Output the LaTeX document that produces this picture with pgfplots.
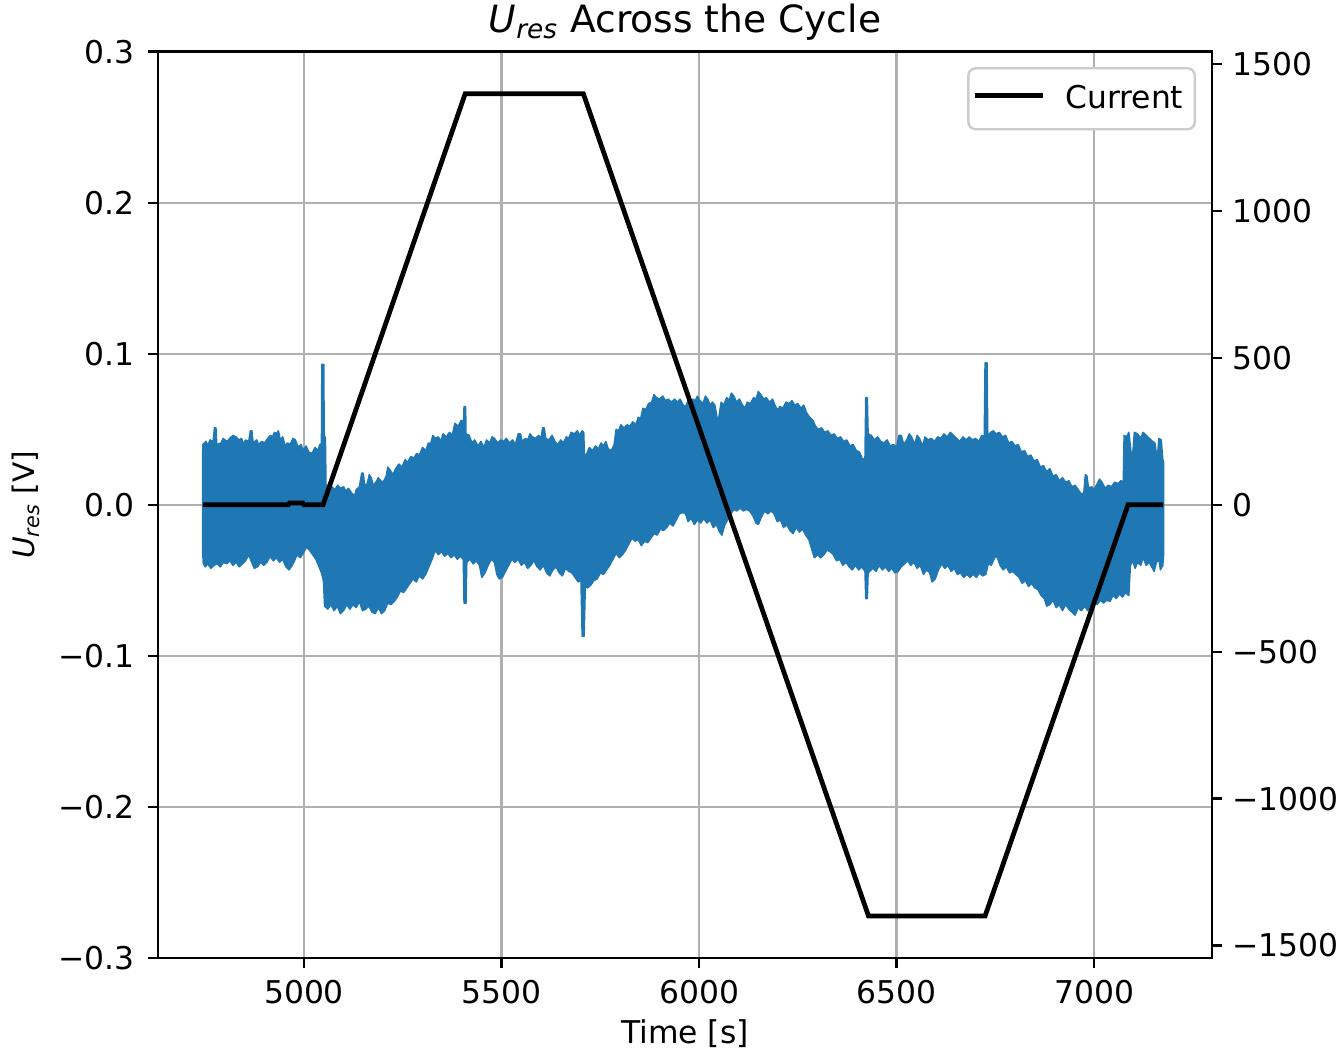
\documentclass[border=0pt]{standalone}
\usepackage{fontspec}
\setmainfont{DejaVu Sans}
\usepackage{pgfplots}
\pgfplotsset{compat=1.18}
\usetikzlibrary{calc}
\definecolor{mplblue}{HTML}{1F77B4}
\definecolor{gridgray}{HTML}{B0B0B0}
\definecolor{legedge}{HTML}{CCCCCC}

\pgfplotsset{
  twin/.style={
    scale only axis, width=354.7bp, height=305.2bp,
    xmin=4631, xmax=7298,
    axis line style={line width=0.8bp, black},
    tick style={line width=0.8bp, black},
    tick align=outside, major tick length=3.5bp,
    tick label style={font=\fontsize{10.6}{12.7}\selectfont},
    label style={font=\fontsize{10.6}{12.7}\selectfont},
    /pgf/number format/assume math mode=true,
  },
}

\begin{document}
\begin{tikzpicture}
\begin{axis}[twin, name=ax,
  ymin=-0.3, ymax=0.3,
  xtick pos=bottom, ytick pos=left,
  xtick={5000,5500,6000,6500,7000},
  xticklabels={5000,5500,6000,6500,7000},
  ytick={-0.3,-0.2,-0.1,0,0.1,0.2,0.3},
  yticklabels={−0.3,−0.2,−0.1,0.0,0.1,0.2,0.3},
  xticklabel style={anchor=north, inner sep=0pt, yshift=-3.6bp},
  yticklabel style={anchor=east, inner sep=0pt, xshift=-4.2bp},
  grid=major, grid style={color=gridgray, line width=0.8bp},
  xlabel={Time [s]},
  xlabel style={at={(rel axis cs:0.5,0)}, anchor=base, yshift=-28.6bp},
  ylabel={\itshape U\textsubscript{\itshape res}\upshape{} [V]},
  every axis y label/.style={at={(rel axis cs:0,0.5)}, anchor=center, rotate=90, yshift=44.6bp},
  title={\itshape U\textsubscript{\itshape res}\upshape{} Across the Cycle},
  every axis title/.style={at={(rel axis cs:0.5,1)}, anchor=base, yshift=6.3bp, font=\fontsize{12.7}{15.2}\selectfont},
]
% residual voltage band: upper envelope left to right, then lower envelope back
\addplot[fill=mplblue, draw=mplblue, line width=0.5bp, line join=round] coordinates {
  (4743,0.030)(4744,0.040)(4752,0.042)(4756,0.039)(4762,0.043)(4770,0.042)(4773,0.051)(4777,0.051)
  (4779,0.040)(4790,0.041)(4795,0.044)(4805,0.042)(4812,0.044)(4820,0.046)(4828,0.045)(4835,0.043)
  (4842,0.044)(4846,0.040)(4852,0.043)(4860,0.042)(4864,0.049)(4868,0.049)(4871,0.041)(4880,0.043)
  (4885,0.040)(4893,0.042)(4900,0.041)(4908,0.044)(4915,0.046)(4920,0.045)(4925,0.048)(4930,0.047)
  (4935,0.049)(4940,0.043)(4946,0.045)(4952,0.039)(4958,0.041)(4965,0.040)(4972,0.044)(4978,0.043)
  (4985,0.038)(4992,0.040)(4998,0.036)(5005,0.039)(5012,0.035)(5020,0.034)(5028,0.038)(5035,0.036)
  (5040,0.040)(5044,0.040)(5045,0.093)(5050,0.093)(5051,0.045)(5054,0.045)(5056,0.005)(5065,0.008)
  (5070,0.012)(5078,0.010)(5085,0.013)(5092,0.011)(5100,0.012)(5106,0.009)(5112,0.011)(5120,0.008)
  (5128,0.006)(5132,0.010)(5140,0.012)(5146,0.021)(5150,0.021)(5153,0.013)(5160,0.014)(5165,0.020)
  (5170,0.018)(5175,0.013)(5182,0.015)(5188,0.018)(5194,0.016)(5200,0.015)(5208,0.019)(5212,0.025)
  (5218,0.023)(5225,0.020)(5232,0.024)(5240,0.027)(5248,0.025)(5256,0.030)(5262,0.028)(5270,0.032)
  (5278,0.031)(5285,0.034)(5292,0.033)(5300,0.038)(5308,0.036)(5315,0.041)(5320,0.040)(5326,0.046)
  (5332,0.044)(5340,0.045)(5346,0.042)(5352,0.047)(5360,0.045)(5368,0.048)(5375,0.046)(5382,0.054)
  (5390,0.052)(5398,0.056)(5404,0.055)(5405,0.065)(5409,0.065)(5410,0.047)(5418,0.046)(5425,0.041)
  (5432,0.043)(5440,0.039)(5448,0.042)(5455,0.038)(5462,0.043)(5470,0.041)(5476,0.045)(5482,0.044)
  (5490,0.041)(5498,0.043)(5505,0.042)(5512,0.044)(5520,0.041)(5528,0.043)(5535,0.040)(5542,0.047)
  (5548,0.047)(5552,0.042)(5560,0.044)(5566,0.043)(5572,0.047)(5578,0.045)(5586,0.044)(5594,0.046)
  (5600,0.044)(5604,0.051)(5608,0.051)(5612,0.044)(5620,0.043)(5628,0.046)(5635,0.042)(5642,0.040)
  (5650,0.043)(5656,0.041)(5664,0.045)(5670,0.044)(5676,0.048)(5684,0.047)(5692,0.049)(5698,0.046)
  (5704,0.049)(5708,0.048)(5710,0.032)(5716,0.034)(5722,0.038)(5730,0.036)(5738,0.039)(5745,0.037)
  (5752,0.041)(5758,0.039)(5764,0.042)(5770,0.037)(5778,0.036)(5785,0.040)(5790,0.050)(5796,0.049)
  (5802,0.053)(5810,0.051)(5818,0.053)(5825,0.052)(5832,0.055)(5840,0.053)(5846,0.058)(5852,0.057)
  (5858,0.064)(5865,0.063)(5872,0.067)(5880,0.068)(5886,0.073)(5892,0.071)(5900,0.070)(5908,0.072)
  (5915,0.069)(5922,0.070)(5930,0.068)(5938,0.070)(5945,0.068)(5952,0.070)(5960,0.066)(5966,0.065)
  (5972,0.069)(5978,0.068)(5984,0.070)(5990,0.069)(5996,0.072)(6002,0.069)(6010,0.067)(6016,0.072)
  (6022,0.070)(6028,0.066)(6034,0.068)(6040,0.066)(6046,0.057)(6050,0.058)(6056,0.068)(6062,0.066)
  (6070,0.071)(6076,0.069)(6082,0.074)(6088,0.072)(6095,0.068)(6102,0.070)(6110,0.066)(6116,0.064)
  (6122,0.068)(6130,0.067)(6138,0.071)(6144,0.070)(6150,0.075)(6156,0.073)(6164,0.070)(6170,0.071)
  (6178,0.068)(6186,0.070)(6192,0.066)(6198,0.063)(6205,0.065)(6212,0.064)(6220,0.068)(6228,0.067)
  (6235,0.069)(6242,0.066)(6250,0.067)(6258,0.064)(6265,0.066)(6272,0.061)(6280,0.058)(6288,0.056)
  (6295,0.052)(6302,0.050)(6310,0.051)(6318,0.048)(6326,0.049)(6334,0.046)(6342,0.047)(6350,0.044)
  (6358,0.045)(6366,0.042)(6374,0.043)(6382,0.039)(6390,0.040)(6398,0.036)(6406,0.035)(6414,0.030)
  (6420,0.031)(6422,0.071)(6426,0.071)(6428,0.047)(6436,0.046)(6444,0.043)(6452,0.045)(6460,0.042)
  (6468,0.041)(6476,0.043)(6484,0.039)(6492,0.040)(6500,0.038)(6506,0.046)(6512,0.046)(6518,0.040)
  (6526,0.043)(6532,0.047)(6538,0.045)(6546,0.040)(6552,0.046)(6558,0.044)(6566,0.039)(6572,0.045)
  (6580,0.043)(6588,0.044)(6596,0.042)(6604,0.045)(6612,0.044)(6620,0.047)(6628,0.045)(6636,0.048)
  (6644,0.046)(6652,0.044)(6660,0.042)(6668,0.045)(6676,0.043)(6684,0.045)(6692,0.043)(6700,0.044)
  (6708,0.042)(6716,0.046)(6722,0.045)(6724,0.094)(6729,0.094)(6731,0.045)(6738,0.048)(6745,0.049)
  (6752,0.047)(6760,0.048)(6768,0.045)(6776,0.046)(6784,0.041)(6792,0.042)(6800,0.039)(6808,0.040)
  (6816,0.035)(6824,0.036)(6832,0.032)(6840,0.033)(6848,0.029)(6856,0.030)(6864,0.025)(6872,0.026)
  (6880,0.022)(6888,0.024)(6896,0.019)(6904,0.020)(6912,0.016)(6920,0.018)(6928,0.015)(6936,0.016)
  (6944,0.012)(6952,0.013)(6960,0.010)(6968,0.007)(6974,0.008)(6978,0.020)(6982,0.019)(6986,0.011)
  (6994,0.012)(7000,0.010)(7008,0.014)(7014,0.017)(7020,0.015)(7028,0.011)(7036,0.013)(7044,0.012)
  (7052,0.015)(7060,0.014)(7068,0.016)(7074,0.015)(7076,0.046)(7082,0.045)(7088,0.048)(7094,0.034)
  (7098,0.034)(7102,0.048)(7110,0.047)(7118,0.044)(7124,0.048)(7132,0.046)(7140,0.044)(7148,0.042)
  (7154,0.041)(7160,0.030)(7164,0.044)(7170,0.043)(7174,0.030)(7176,0.028)
  (7176,-0.033)(7174,-0.040)(7168,-0.043)(7164,-0.036)(7158,-0.038)(7152,-0.044)(7146,-0.041)(7140,-0.038)
  (7132,-0.040)(7124,-0.035)(7118,-0.040)(7110,-0.038)(7104,-0.042)(7098,-0.037)(7092,-0.040)(7088,-0.060)
  (7080,-0.058)(7072,-0.061)(7064,-0.059)(7056,-0.062)(7048,-0.060)(7040,-0.064)(7032,-0.063)(7024,-0.065)
  (7016,-0.063)(7008,-0.066)(7000,-0.064)(6992,-0.068)(6984,-0.070)(6976,-0.067)(6968,-0.070)(6960,-0.068)
  (6952,-0.073)(6944,-0.071)(6936,-0.069)(6928,-0.066)(6920,-0.070)(6912,-0.066)(6904,-0.068)(6896,-0.063)
  (6888,-0.066)(6880,-0.067)(6874,-0.062)(6866,-0.060)(6858,-0.056)(6850,-0.055)(6842,-0.052)(6834,-0.054)
  (6826,-0.050)(6818,-0.052)(6810,-0.048)(6802,-0.046)(6794,-0.044)(6786,-0.045)(6778,-0.041)(6770,-0.043)
  (6762,-0.040)(6754,-0.034)(6748,-0.035)(6740,-0.040)(6732,-0.039)(6726,-0.046)(6718,-0.047)(6710,-0.045)
  (6702,-0.048)(6694,-0.046)(6686,-0.048)(6678,-0.046)(6670,-0.048)(6662,-0.045)(6654,-0.046)(6646,-0.042)
  (6638,-0.044)(6630,-0.040)(6622,-0.042)(6614,-0.039)(6606,-0.043)(6598,-0.049)(6590,-0.051)(6584,-0.045)
  (6576,-0.043)(6568,-0.046)(6560,-0.040)(6552,-0.042)(6544,-0.038)(6536,-0.040)(6528,-0.037)(6520,-0.039)
  (6512,-0.041)(6504,-0.044)(6496,-0.045)(6488,-0.042)(6480,-0.044)(6472,-0.041)(6464,-0.043)(6456,-0.040)
  (6448,-0.044)(6440,-0.042)(6432,-0.044)(6428,-0.045)(6426,-0.062)(6422,-0.062)(6420,-0.044)(6412,-0.041)
  (6404,-0.043)(6396,-0.040)(6388,-0.043)(6380,-0.041)(6372,-0.038)(6364,-0.040)(6356,-0.036)(6348,-0.037)
  (6340,-0.033)(6332,-0.031)(6324,-0.030)(6316,-0.033)(6308,-0.035)(6300,-0.033)(6292,-0.035)(6286,-0.030)
  (6278,-0.023)(6270,-0.020)(6262,-0.016)(6254,-0.018)(6246,-0.015)(6238,-0.019)(6230,-0.017)(6222,-0.013)
  (6214,-0.015)(6206,-0.010)(6198,-0.011)(6190,-0.006)(6182,-0.004)(6174,-0.006)(6166,-0.004)(6158,-0.008)
  (6150,-0.013)(6144,-0.012)(6136,-0.007)(6128,-0.004)(6120,-0.003)(6112,-0.004)(6104,-0.002)(6096,-0.004)
  (6088,-0.003)(6080,-0.006)(6072,-0.010)(6064,-0.014)(6058,-0.020)(6052,-0.018)(6044,-0.013)(6036,-0.015)
  (6028,-0.010)(6020,-0.012)(6012,-0.009)(6004,-0.012)(5996,-0.010)(5988,-0.013)(5980,-0.009)(5972,-0.011)
  (5966,-0.006)(5958,-0.005)(5950,-0.006)(5942,-0.010)(5934,-0.014)(5926,-0.012)(5918,-0.015)(5910,-0.017)
  (5902,-0.016)(5894,-0.020)(5886,-0.019)(5878,-0.022)(5870,-0.025)(5862,-0.024)(5854,-0.027)(5846,-0.023)
  (5838,-0.024)(5830,-0.022)(5822,-0.026)(5814,-0.030)(5806,-0.033)(5798,-0.035)(5790,-0.032)(5782,-0.036)
  (5774,-0.040)(5766,-0.043)(5758,-0.046)(5750,-0.045)(5742,-0.049)(5734,-0.050)(5726,-0.053)(5718,-0.055)
  (5712,-0.054)(5709,-0.087)(5704,-0.087)(5701,-0.050)(5694,-0.051)(5686,-0.048)(5678,-0.045)(5670,-0.044)
  (5662,-0.042)(5654,-0.047)(5646,-0.045)(5638,-0.041)(5630,-0.043)(5622,-0.047)(5614,-0.045)(5606,-0.040)
  (5598,-0.043)(5590,-0.041)(5582,-0.037)(5574,-0.040)(5566,-0.042)(5558,-0.038)(5550,-0.040)(5542,-0.036)
  (5534,-0.038)(5526,-0.036)(5518,-0.040)(5510,-0.044)(5502,-0.048)(5494,-0.049)(5488,-0.046)(5482,-0.038)
  (5474,-0.036)(5466,-0.040)(5458,-0.045)(5450,-0.048)(5444,-0.040)(5436,-0.037)(5428,-0.039)(5420,-0.036)
  (5412,-0.038)(5410,-0.065)(5405,-0.065)(5403,-0.036)(5396,-0.034)(5388,-0.036)(5380,-0.033)(5372,-0.035)
  (5364,-0.032)(5356,-0.034)(5348,-0.031)(5340,-0.033)(5332,-0.030)(5324,-0.036)(5316,-0.041)(5308,-0.046)
  (5300,-0.049)(5292,-0.047)(5284,-0.051)(5276,-0.049)(5268,-0.052)(5260,-0.055)(5252,-0.058)(5244,-0.057)
  (5236,-0.061)(5228,-0.064)(5220,-0.066)(5212,-0.065)(5204,-0.070)(5196,-0.072)(5188,-0.068)(5180,-0.072)
  (5172,-0.071)(5164,-0.067)(5156,-0.069)(5148,-0.070)(5140,-0.064)(5132,-0.068)(5124,-0.066)(5116,-0.069)
  (5108,-0.066)(5100,-0.070)(5092,-0.072)(5084,-0.067)(5076,-0.070)(5068,-0.066)(5060,-0.069)(5052,-0.067)
  (5049,-0.050)(5044,-0.045)(5038,-0.041)(5030,-0.036)(5022,-0.033)(5014,-0.030)(5006,-0.028)(4998,-0.032)
  (4990,-0.035)(4982,-0.033)(4976,-0.037)(4970,-0.040)(4962,-0.043)(4954,-0.041)(4946,-0.036)(4938,-0.038)
  (4930,-0.035)(4922,-0.037)(4914,-0.034)(4906,-0.038)(4898,-0.040)(4890,-0.038)(4882,-0.041)(4874,-0.042)
  (4866,-0.037)(4860,-0.033)(4852,-0.037)(4844,-0.039)(4836,-0.041)(4828,-0.038)(4820,-0.040)(4812,-0.037)
  (4804,-0.039)(4796,-0.038)(4788,-0.041)(4780,-0.039)(4772,-0.040)(4764,-0.042)(4756,-0.039)(4750,-0.041)
  (4745,-0.039)(4743,-0.030)
} -- cycle;
\end{axis}

\begin{axis}[twin,
  ymin=-1543, ymax=1543,
  axis y line*=right, axis x line=none,
  ytick={-1500,-1000,-500,0,500,1000,1500},
  yticklabels={−1500,−1000,−500,0,500,1000,1500},
  yticklabel style={anchor=west, inner sep=0pt, xshift=3.3bp},
  legend image code/.code={\draw[#1] (0bp,1bp) -- (23bp,1bp);},
  legend style={at={(1,1)}, xshift=-5.3bp, yshift=-5.2bp, anchor=north east,
    draw=legedge, rounded corners=2.5bp, fill=white, line width=0.8bp,
    font=\fontsize{10.6}{12.7}\selectfont, inner xsep=1.3bp, inner ysep=0pt,
    nodes={inner xsep=2.6bp, inner ysep=5.6bp}},
]
\addplot[black, line width=1.6bp] coordinates {
  (4744,0)(4960,0)(4963,6)(4997,6)(5000,0)(5048,0)(5408,1400)(5707,1400)
  (6429,-1400)(6724,-1400)(7086,0)(7175,0)};
\addlegendentry{\hspace{4.2bp}Current\hspace{4bp}}
\end{axis}

\pgfresetboundingbox
\path ($(ax.south west)+(-53.3bp,-32.2bp)$) rectangle ($(ax.north east)+(42.5bp,17.4bp)$);
\end{tikzpicture}
\end{document}
